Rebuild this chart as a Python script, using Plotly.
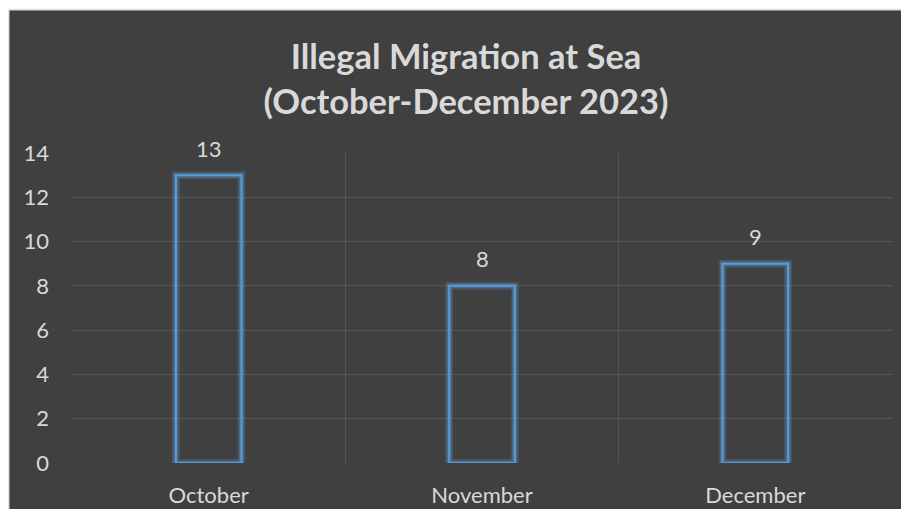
import plotly.graph_objects as go

categories = ["October", "November", "December"]
values = [13, 8, 9]
y_ticks = [0, 2, 4, 6, 8, 10, 12, 14]
title_lines = ["Illegal Migration at Sea", "(October-December 2023)"]

OFF = 8  # page body margin on each side
W, H = 909 - 2 * OFF, 517 - 2 * OFF
# plot area in page pixels: x 72..892, y 153..463
ML, MT = 72 - OFF, 153 - OFF
MR, MB = W - (892 - OFF), H - (463 - OFF)
PW, PH = W - ML - MR, H - MT - MB

TXT = "#d9d9d9"
BLUE = "#5b9bd5"
FONT = "Lato"

fig = go.Figure()
fig.add_trace(go.Bar(
    x=categories, y=values, width=0.24,
    marker=dict(color="rgba(0,0,0,0)", line=dict(color="rgba(91,155,213,0.2)", width=8)),
    hoverinfo="skip", showlegend=False,
))
fig.add_trace(go.Bar(
    x=categories, y=values, width=0.24,
    marker=dict(color="rgba(0,0,0,0)", line=dict(color="rgba(91,155,213,0.35)", width=5)),
    hoverinfo="skip", showlegend=False,
))
fig.add_trace(go.Bar(
    x=categories, y=values, width=0.24,
    marker=dict(color="rgba(0,0,0,0)", line=dict(color=BLUE, width=2)),
    showlegend=False,
))

for c, v in zip(categories, values):
    fig.add_annotation(x=c, y=v, text=str(v), showarrow=False, yanchor="middle",
                       yshift=27, font=dict(family=FONT, size=22, color=TXT))

# dark chart background with light strip on left/top
fig.add_shape(type="rect", xref="paper", yref="paper",
              x0=(9 - OFF - ML) / PW, x1=(W + 5 - ML) / PW,
              y0=(MT + PH - H - 5) / PH, y1=(MT + PH - (10 - OFF)) / PH,
              fillcolor="#404040", line=dict(width=1, color="#d0d0d0"), layer="below")

fig.update_layout(
    width=W, height=H,
    margin=dict(l=ML, r=MR, t=MT, b=MB),
    paper_bgcolor="#f7f7f7",
    plot_bgcolor="rgba(0,0,0,0)",
    barmode="overlay",
    title=dict(text="<b>" + "<br>".join(title_lines) + "</b>",
               x=(466 - OFF) / W, xanchor="center", xref="container",
               y=1 - 61 / H, yanchor="middle",
               font=dict(family=FONT, size=34.5, color=TXT)),
    xaxis=dict(type="category", tickson="boundaries", showgrid=True, gridcolor="#555555",
               gridwidth=1, ticks="", ticklabelstandoff=17, automargin=False,
               tickfont=dict(family=FONT, size=22, color=TXT), showline=False,
               range=[-0.5, 2.5]),
    yaxis=dict(range=[0, 14], tickvals=y_ticks, showgrid=True, gridcolor="#555555",
               gridwidth=1, zeroline=False, ticks="", ticklabelstandoff=22, automargin=False,
               tickfont=dict(family=FONT, size=22, color=TXT),
               showline=False),
)

fig.write_html("out.html")
